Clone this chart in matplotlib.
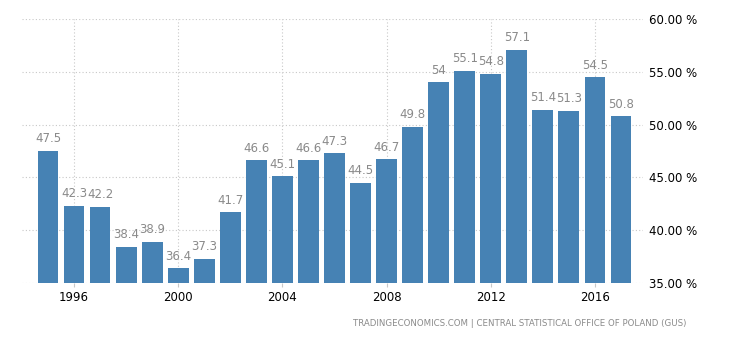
import matplotlib.pyplot as plt
import numpy as np

# Datos
years = list(range(1995, 2018))
values = [47.5, 42.3, 42.2, 38.4, 38.9, 36.4, 37.3, 41.7, 46.6, 45.1, 46.6, 47.3,
          44.5, 46.7, 49.8, 54, 55.1, 54.8, 57.1, 51.4, 51.3, 54.5, 50.8]
labels = ["47.5", "42.3", "42.2", "38.4", "38.9", "36.4", "37.3", "41.7", "46.6", "45.1",
          "46.6", "47.3", "44.5", "46.7", "49.8", "54", "55.1", "54.8", "57.1", "51.4",
          "51.3", "54.5", "50.8"]
xticks = [1996, 2000, 2004, 2008, 2012, 2016]
yticks = [35, 40, 45, 50, 55, 60]

plt.rcParams['font.family'] = ['DejaVu Sans']

fig = plt.figure(figsize=(7.3, 3.4), dpi=100)
ax = fig.add_axes([0.030, 0.168, 0.851, 0.776])

ax.bar(years, values, width=0.8, color='#4682b4', zorder=2)
for x, v, t in zip(years, values, labels):
    ax.annotate(t, (x, v), xytext=(0, 4), textcoords='offset points',
                ha='center', va='bottom', fontsize=8.5, color='#8a8a8a', zorder=3)

ax.set_xlim(1994.0, 2017.85)
ax.set_ylim(35, 60)
ax.set_xticks(xticks)
ax.set_xticklabels([str(y) for y in xticks])
ax.set_yticks(yticks)
ax.set_yticklabels([f"{y:.2f} %" for y in yticks])
ax.yaxis.tick_right()

ax.grid(True, linestyle=(0, (1, 2)), color='#c8c8c8', linewidth=0.8, zorder=0)
for s in ax.spines.values():
    s.set_visible(False)
ax.tick_params(axis='x', length=3, color='#c8c8c8', labelsize=8.5, pad=3)
ax.tick_params(axis='y', length=0, labelsize=8.5, pad=4)

fig.text(0.94, 0.035, "TRADINGECONOMICS.COM | CENTRAL STATISTICAL OFFICE OF POLAND (GUS)",
         ha='right', va='bottom', fontsize=6.2, color='#8a8a8a')

fig.savefig("out.png", dpi=100)
